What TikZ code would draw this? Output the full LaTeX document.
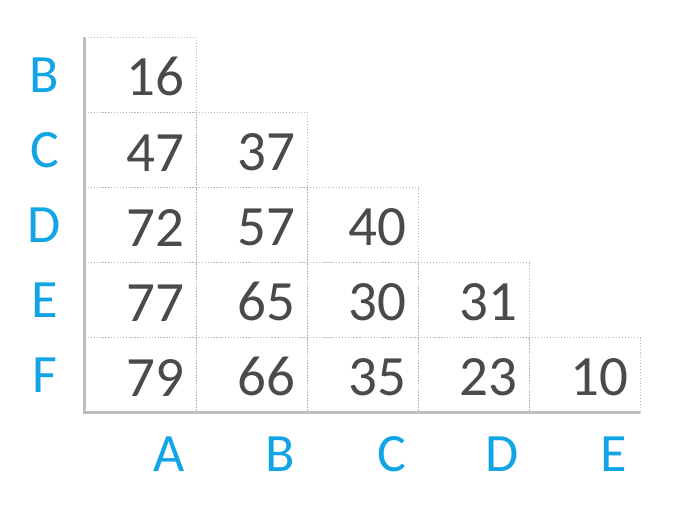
\documentclass[tikz,border=0pt]{standalone}
\usepackage{fontspec}
\setmainfont{Carlito}
\usepackage{xcolor}
\usepackage{tikz}
\usetikzlibrary{positioning}

\definecolor{axisgray}{HTML}{BFBFBF}
\definecolor{gridgray}{HTML}{B8B8B8}
\definecolor{numgray}{HTML}{4A4A4A}
\definecolor{lblblue}{HTML}{12A5E6}

\begin{document}
\begin{tikzpicture}[
  x=1pt,y=1pt,
  node distance=75pt and 111pt,
  on grid,
  cell/.style= {draw=gridgray,dotted,line width=0.9pt,minimum width=111pt,
    minimum height=75pt,text width=87pt,inner xsep=12pt,align=right,
    text height=42pt,text=numgray,font=\fontsize{57}{57}\selectfont},
  row label/.style= {text=lblblue,font=\fontsize{54}{54}\selectfont},
  col label/.style= {row label},
  axis/.style= {draw=axisgray,line width=3pt}]
  \useasboundingbox (0,0) rectangle (676,515);
  % cells: row letter then column letter
  \node [cell] (ba) at (140.5,440) {16};
  \node [cell] (ca) [below=of ba] {47};
  \node [cell] (cb) [right=of ca] {37};
  \node [cell] (da) [below=of ca] {72};
  \node [cell] (db) [right=of da] {57};
  \node [cell] (dc) [right=of db] {40};
  \node [cell] (ea) [below=of da] {77};
  \node [cell] (eb) [right=of ea] {65};
  \node [cell] (ec) [right=of eb] {30};
  \node [cell] (ed) [right=of ec] {31};
  \node [cell] (fa) [below=of ea] {79};
  \node [cell] (fb) [right=of fa] {66};
  \node [cell] (fc) [right=of fb] {35};
  \node [cell] (fd) [right=of fc] {23};
  \node [cell] (fe) [right=of fd] {10};
  % axes
  \draw [axis] (ba.north west) -- (fa.south west) -- (fe.south east);
  % row labels
  \node [row label] (rb) [left=96pt of ba] {B};
  \node [row label] (rc) [left=96pt of ca] {C};
  \node [row label] (rd) [left=96pt of da] {D};
  \node [row label] (re) [left=96pt of ea] {E};
  \node [row label] (rf) [left=96pt of fa] {F};
  % column labels
  \node [col label] (ca0) [below right=79pt and 29pt of fa] {A};
  \node [col label] (cb0) [below right=79pt and 29pt of fb] {B};
  \node [col label] (cc0) [below right=79pt and 29pt of fc] {C};
  \node [col label] (cd0) [below right=79pt and 29pt of fd] {D};
  \node [col label] (ce0) [below right=79pt and 29pt of fe] {E};
\end{tikzpicture}
\end{document}
